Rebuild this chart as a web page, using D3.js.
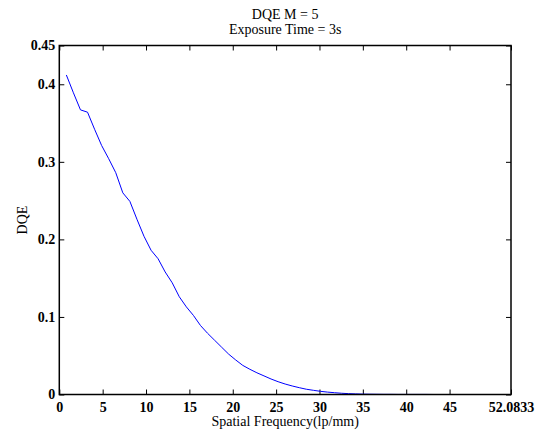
<!DOCTYPE html>
<html>
<head>
<meta charset="utf-8">
<script src="https://cdn.jsdelivr.net/npm/d3@7"></script>
<style>
  html, body { margin: 0; padding: 0; background: #fff; }
  svg { display: block; }
  text { font-family: "Liberation Serif", "Times New Roman", serif; fill: #000; }
</style>
</head>
<body>
<svg id="chart" width="544" height="433"></svg>
<script>
// Sampling grid: bins up to the Nyquist frequency (lp/mm)
const nyquist = 52.0833;
const bins = 64;

// DQE measured at bins 1..62
const dqe = [
  0.412, 0.389, 0.367, 0.364, 0.342, 0.321, 0.304, 0.286, 0.260, 0.249,
  0.226, 0.204, 0.186, 0.175, 0.158, 0.144, 0.126, 0.113, 0.102, 0.089,
  0.079, 0.070, 0.061, 0.052, 0.0445, 0.0375, 0.0325, 0.028, 0.024, 0.020,
  0.0165, 0.0135, 0.011, 0.0088, 0.0068, 0.0054, 0.0041, 0.0031, 0.0023, 0.0016,
  0.0011, 0.0008, 0.0005, 0.0004, 0.0003, 0.0002, 0.0002, 0.0001, 0.0001, 0.0001,
  0.0001, 0.0001, 0.0, 0.0, 0.0, 0.0, 0.0, 0.0, 0.0, 0.0,
  0.0, 0.0
];

const xTicks = [0, 5, 10, 15, 20, 25, 30, 35, 40, 45, 52.0833];
const yTicks = [0, 0.1, 0.2, 0.3, 0.4, 0.45];

const titleLines = ["DQE M = 5", "Exposure Time = 3s"];
const xLabel = "Spatial Frequency(lp/mm)";
const yLabel = "DQE";

const points = dqe.map((v, i) => ({ f: (i + 1) * nyquist / bins, v }));

const svg = d3.select("#chart");
const box = { left: 59.3, right: 511, top: 45.5, bottom: 394.5 };

const x = d3.scaleLinear().domain([0, nyquist]).range([box.left, box.right]);
const y = d3.scaleLinear().domain([0, 0.45]).range([box.bottom, box.top]);

const tickLen = 5;
const fmtX = d => (d === 52.0833 ? "52.0833" : d3.format("d")(d));
const fmtY = d => (d === 0 ? "0" : String(+d.toFixed(2)));

function styleAxis(g) {
  g.select(".domain").remove();
  g.selectAll(".tick line").attr("stroke", "#000").attr("stroke-width", 1);
  g.selectAll(".tick text")
    .style("font-family", '"Liberation Serif", serif')
    .style("font-size", "14px")
    .style("font-weight", "bold")
    .attr("fill", "#000");
}

// bottom axis with labels, ticks pointing inward
svg.append("g")
  .attr("transform", `translate(0,${box.bottom})`)
  .call(d3.axisBottom(x).tickValues(xTicks).tickFormat(fmtX)
    .tickSizeInner(-tickLen).tickSizeOuter(0).tickPadding(8))
  .call(styleAxis);

// top axis: ticks only
svg.append("g")
  .attr("transform", `translate(0,${box.top})`)
  .call(d3.axisTop(x).tickValues(xTicks).tickFormat("")
    .tickSizeInner(-tickLen).tickSizeOuter(0))
  .call(styleAxis);

// left axis with labels
svg.append("g")
  .attr("transform", `translate(${box.left},0)`)
  .call(d3.axisLeft(y).tickValues(yTicks).tickFormat(fmtY)
    .tickSizeInner(-tickLen).tickSizeOuter(0).tickPadding(4))
  .call(styleAxis);

// right axis: ticks only
svg.append("g")
  .attr("transform", `translate(${box.right},0)`)
  .call(d3.axisRight(y).tickValues(yTicks).tickFormat("")
    .tickSizeInner(-tickLen).tickSizeOuter(0))
  .call(styleAxis);

// DQE curve
const line = d3.line().x(d => x(d.f)).y(d => y(d.v));
svg.append("path")
  .datum(points)
  .attr("d", line)
  .attr("fill", "none")
  .attr("stroke", "#0000ff")
  .attr("stroke-width", 1);

// axes box
svg.append("rect")
  .attr("x", box.left).attr("y", box.top)
  .attr("width", box.right - box.left).attr("height", box.bottom - box.top)
  .attr("fill", "none").attr("stroke", "#000").attr("stroke-width", 1.5);

// title
const cx = (box.left + box.right) / 2;
svg.append("text")
  .attr("x", cx).attr("y", 19)
  .attr("text-anchor", "middle")
  .style("font-size", "14px")
  .text(titleLines[0]);
svg.append("text")
  .attr("x", cx).attr("y", 34)
  .attr("text-anchor", "middle")
  .style("font-size", "14px")
  .text(titleLines[1]);

// axis labels
svg.append("text")
  .attr("x", cx).attr("y", 426)
  .attr("text-anchor", "middle")
  .style("font-size", "14px")
  .text(xLabel);

svg.append("text")
  .attr("transform", `translate(27,${(box.top + box.bottom) / 2}) rotate(-90)`)
  .attr("text-anchor", "middle")
  .style("font-size", "14px")
  .text(yLabel);
</script>
</body>
</html>
